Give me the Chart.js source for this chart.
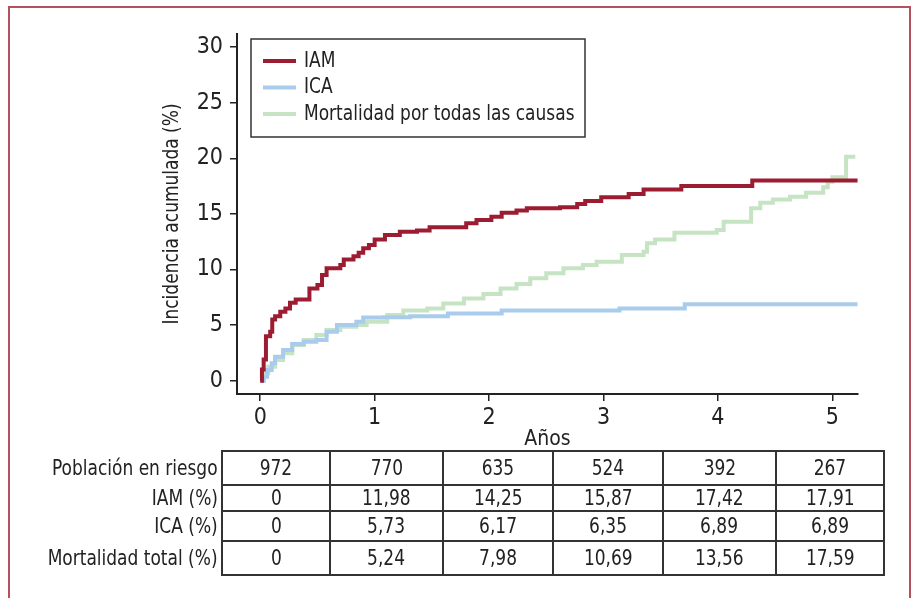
<!DOCTYPE html>
<html>
<head>
<meta charset="utf-8">
<script src="https://cdn.jsdelivr.net/npm/chart.js@4.4.0/dist/chart.umd.min.js"></script>
<style>
  body { margin: 0; background: #fff; }
  #frame { position: absolute; left: 8px; top: 6px; width: 903px; height: 640px; border: 2px solid #b3515f; box-sizing: border-box; }
  #wrap { position: absolute; left: 0; top: 0; width: 916px; height: 452px; }
  #risk { position: absolute; left: 10px; top: 450px; border-collapse: collapse; table-layout: fixed;
          font-family: 'DejaVu Sans Condensed', 'DejaVu Sans', sans-serif;
          font-size: 22px; color: #222; }
  #risk td { border: 2px solid #333; text-align: center; padding: 0; white-space: nowrap; line-height: 24px; }
  #risk td span { display: inline-block; transform: scaleX(0.86); }
  #risk td.lbl { border: none; border-right: 2px solid #333; text-align: right; padding-right: 3px; }
  #risk td.lbl span { transform-origin: right center; }
</style>
</head>
<body>
<div id="frame"></div>
<div id="wrap"><canvas id="km" width="916" height="452"></canvas></div>
<table id="risk"></table>
<script>
const seriesLabels = ['IAM', 'ICA', 'Mortalidad por todas las causas'];
const seriesColors = ['#9c1c32', '#a9cbec', '#c6e4c4'];
const yTitle = 'Incidencia acumulada (%)';
const xTitle = 'Años';

const iamTimes  = [0, 0.015, 0.03, 0.05, 0.087, 0.105, 0.13, 0.175, 0.22, 0.26, 0.31, 0.43, 0.50, 0.54, 0.58, 0.70, 0.73, 0.815, 0.86, 0.90, 0.95, 1.00, 1.09, 1.22, 1.37, 1.48, 1.80, 1.89, 2.02, 2.11, 2.24, 2.33, 2.62, 2.77, 2.84, 2.98, 3.22, 3.35, 3.68, 4.30, 5.22];
const iamValues = [0, 1.0, 1.9, 4.0, 4.4, 5.5, 5.8, 6.2, 6.5, 7.0, 7.3, 8.3, 8.6, 9.5, 10.1, 10.4, 10.9, 11.2, 11.5, 11.9, 12.2, 12.7, 13.1, 13.4, 13.5, 13.8, 14.15, 14.45, 14.75, 15.1, 15.3, 15.5, 15.6, 15.9, 16.15, 16.5, 16.8, 17.2, 17.5, 18.0, 18.0];

const icaTimes  = [0, 0.03, 0.06, 0.10, 0.13, 0.20, 0.28, 0.38, 0.49, 0.58, 0.67, 0.84, 0.90, 1.08, 1.31, 1.64, 2.11, 3.14, 3.71, 5.22];
const icaValues = [0, 0.36, 0.96, 1.56, 2.16, 2.76, 3.3, 3.5, 3.65, 4.4, 5.0, 5.3, 5.67, 5.7, 5.8, 6.05, 6.3, 6.5, 6.87, 6.87];

const morTimes  = [0, 0.03, 0.07, 0.13, 0.20, 0.28, 0.38, 0.49, 0.58, 0.70, 0.84, 0.93, 1.11, 1.25, 1.46, 1.60, 1.78, 1.95, 2.10, 2.24, 2.36, 2.50, 2.65, 2.82, 2.94, 3.16, 3.35, 3.38, 3.45, 3.62, 3.99, 4.05, 4.29, 4.37, 4.48, 4.63, 4.77, 4.92, 4.96, 5.0, 5.12, 5.2];
const morValues = [0, 0.66, 1.26, 1.86, 2.46, 3.2, 3.66, 4.1, 4.56, 4.86, 5.0, 5.3, 5.9, 6.3, 6.5, 6.95, 7.4, 7.8, 8.3, 8.7, 9.2, 9.65, 10.1, 10.4, 10.7, 11.3, 11.6, 12.35, 12.7, 13.3, 13.55, 14.3, 15.5, 16.0, 16.3, 16.55, 16.9, 17.4, 17.9, 18.3, 20.15, 20.15];

const xTicks = [0, 1, 2, 3, 4, 5];
const yTicks = [0, 5, 10, 15, 20, 25, 30];

// tabla de pacientes en riesgo
const tableRows = ['Población en riesgo', 'IAM (%)', 'ICA (%)', 'Mortalidad total (%)'];
const atRisk   = [972, 770, 635, 524, 392, 267];
const iamPct   = [0, 11.98, 14.25, 15.87, 17.42, 17.91];
const icaPct   = [0, 5.73, 6.17, 6.35, 6.89, 6.89];
const morPct   = [0, 5.24, 7.98, 10.69, 13.56, 17.59];

const FONT = "'DejaVu Sans Condensed', 'DejaVu Sans', sans-serif";
const NARROW = 0.86;
Chart.defaults.font.family = FONT;
Chart.defaults.color = '#222';

const toPoints = (xs, ys) => xs.map((t, i) => ({ x: t, y: ys[i] }));
const series = [toPoints(iamTimes, iamValues), toPoints(icaTimes, icaValues), toPoints(morTimes, morValues)];

// texto estrecho (la fuente original es condensada)
function narrowText(ctx, text, x, y, rot) {
  ctx.save();
  ctx.translate(x, y);
  if (rot) ctx.rotate(rot);
  ctx.scale(NARROW, 1);
  ctx.fillText(text, 0, 0);
  ctx.restore();
}

const legendBox = {
  id: 'legendBox',
  afterDraw(chart) {
    const ctx = chart.ctx;
    const a = chart.chartArea;
    ctx.save();
    ctx.fillStyle = '#222';
    ctx.font = '22px ' + FONT;
    ctx.textBaseline = 'middle';
    ctx.textAlign = 'center';
    narrowText(ctx, yTitle, 172, (a.top + a.bottom) / 2, -Math.PI / 2);

    const left = a.left + 14, top = a.top + 5;
    ctx.strokeStyle = '#333';
    ctx.lineWidth = 1.5;
    ctx.strokeRect(left, top, 334, 98);
    ctx.textAlign = 'left';
    chart.data.datasets.forEach((ds, i) => {
      const y = top + 22 + i * 26.5;
      ctx.strokeStyle = ds.borderColor;
      ctx.lineWidth = 4;
      ctx.beginPath();
      ctx.moveTo(left + 12, y);
      ctx.lineTo(left + 45, y);
      ctx.stroke();
      narrowText(ctx, ds.label, left + 53, y);
    });
    ctx.restore();
  }
};

new Chart(document.getElementById('km'), {
  type: 'line',
  data: {
    datasets: series.map((pts, i) => ({
      label: seriesLabels[i],
      data: pts,
      borderColor: seriesColors[i],
      backgroundColor: seriesColors[i],
      borderWidth: 4,
      stepped: true,
      pointRadius: 0,
      fill: false
    }))
  },
  options: {
    responsive: false,
    animation: false,
    layout: { padding: { left: 150, top: 34, right: 58, bottom: 0 } },
    plugins: { legend: { display: false }, tooltip: { enabled: false } },
    scales: {
      x: {
        type: 'linear',
        min: -0.203,
        max: 5.224,
        afterBuildTicks: s => { s.ticks = xTicks.map(v => ({ value: v })); },
        afterFit: s => { s.height = 58; },
        grid: { drawOnChartArea: false, drawTicks: true, tickLength: 7, color: '#222', lineWidth: 1.5 },
        border: { display: true, color: '#222', width: 2 },
        ticks: { font: { size: 23 }, padding: 3, maxRotation: 0 },
        title: { display: true, text: xTitle, font: { size: 21 }, padding: { top: 0, bottom: 0 } }
      },
      y: {
        type: 'linear',
        min: -1.2,
        max: 31.18,
        afterBuildTicks: s => { s.ticks = yTicks.map(v => ({ value: v })); },
        afterFit: s => { s.width = 87; },
        grid: { drawOnChartArea: false, drawTicks: true, tickLength: 7, color: '#222', lineWidth: 1.5 },
        border: { display: true, color: '#222', width: 2 },
        ticks: { font: { size: 23 }, padding: 7 },
        title: { display: false }
      }
    }
  },
  plugins: [legendBox]
});

// construir la tabla
const colWidths = [106, 111, 108, 108, 111, 106];
const rowHeights = [34, 25, 30, 34];
const rowData = [atRisk, iamPct, icaPct, morPct];
const fmt = v => String(v).replace('.', ',');
const table = document.getElementById('risk');
const cell = (text, w, cls) => {
  const td = document.createElement('td');
  if (cls) td.className = cls;
  td.style.width = w + 'px';
  const sp = document.createElement('span');
  sp.textContent = text;
  td.appendChild(sp);
  return td;
};
rowData.forEach((vals, r) => {
  const tr = document.createElement('tr');
  tr.style.height = rowHeights[r] + 'px';
  tr.appendChild(cell(tableRows[r], 208, 'lbl'));
  vals.forEach((v, c) => tr.appendChild(cell(fmt(v), colWidths[c])));
  table.appendChild(tr);
});
</script>
</body>
</html>
